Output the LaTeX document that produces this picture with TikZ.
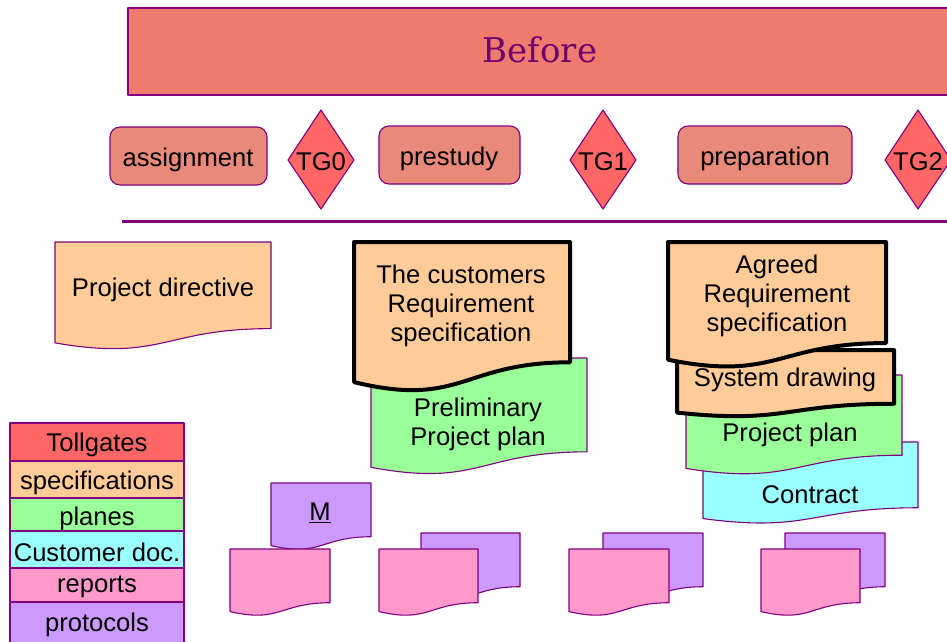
\documentclass[tikz,border=0pt]{standalone}
\usepackage{fontspec}
\setmainfont{Liberation Sans}
\newfontfamily\beforefont{DejaVu Serif}
\definecolor{edge}{RGB}{128,0,128}
\definecolor{titletext}{RGB}{110,0,110}
\definecolor{bannerfill}{RGB}{239,123,111}
\definecolor{phasefill}{RGB}{233,137,122}
\definecolor{gatefill}{RGB}{255,102,102}
\definecolor{specfill}{RGB}{255,204,153}
\definecolor{planfill}{RGB}{153,255,153}
\definecolor{custfill}{RGB}{153,255,255}
\definecolor{repfill}{RGB}{255,153,204}
\definecolor{protfill}{RGB}{204,153,255}
\newcommand{\docshape}[5][]{%
  \draw[#1] (#2,#3) -- ({#2+#4},#3) -- ({#2+#4},{#3+0.802*#5})
    .. controls ({#2+#4/2},{#3+0.802*#5}) and ({#2+#4/2},{#3+1.108*#5})
    .. (#2,{#3+0.934*#5}) -- cycle;}
\tikzset{
  thinedge/.style={draw=edge, line width=1.1pt, line join=round},
  thickedge/.style={draw=black, line width=4pt, line join=round},
  lbl/.style={inner sep=0pt, align=center, yshift=-2.5pt, font=\fontsize{25.6}{29}\selectfont},
  legendrow/.style={thinedge},
}
\begin{document}
\begin{tikzpicture}[x=1pt,y=-1pt]
\useasboundingbox (0,0) rectangle (947,641);
\begin{scope}
\clip (0,0) rectangle (947,641);
% banner
\draw[thinedge, fill=bannerfill] (128,8) rectangle (960,95);
\node[inner sep=0pt, text=titletext, font=\beforefont\fontsize{34}{40}\selectfont] (before) at (540,50) {Before};
% phases
\draw[thinedge, fill=phasefill, rounded corners=10pt] (110,127) rectangle (267,185);
\node[lbl] (assign) at (188,157) {assignment};
\draw[thinedge, fill=phasefill, rounded corners=10pt] (379,126) rectangle (520,184);
\node[lbl] (prestudy) at (449,156) {prestudy};
\draw[thinedge, fill=phasefill, rounded corners=10pt] (678,126) rectangle (852,184);
\node[lbl] (prep) at (765,156) {preparation};
% tollgates
\draw[thinedge, fill=gatefill] (321,110) -- (354,160) -- (321,209) -- (288,160) -- cycle;
\node[lbl, yshift=1pt] (tg0) at (321,160) {TG0};
\draw[thinedge, fill=gatefill] (603,110) -- (636,160) -- (603,209) -- (570,160) -- cycle;
\node[lbl, yshift=1pt] (tg1) at (603,160) {TG1};
\draw[thinedge, fill=gatefill] (918,110) -- (951,160) -- (918,209) -- (885,160) -- cycle;
\node[lbl, yshift=1pt] (tg2) at (918,160) {TG2};
% separator
\draw[draw=edge, line width=3pt] (122,221) -- (960,221);
% project directive
\docshape[thinedge, fill=specfill]{55}{242}{216}{108}
\node[lbl] (pdir) at (163,287) {Project directive};
% preliminary project plan
\docshape[thinedge, fill=planfill]{371}{358}{216}{117}
\node[lbl] (prelim) at (478,422) {Preliminary\\Project plan};
% customers requirement spec
\docshape[thickedge, fill=specfill]{354}{242}{216}{150}
\node[lbl] (custreq) at (461,303) {The customers\\Requirement\\specification};
% contract
\docshape[thinedge, fill=custfill]{703}{442}{215}{82}
\node[lbl] (contract) at (810,492) {Contract};
% project plan
\docshape[thinedge, fill=planfill]{686}{375}{216}{100}
\node[lbl] (pplan) at (790,432) {Project plan};
% system drawing
\docshape[thickedge, fill=specfill]{677}{350}{217}{67}
\node[lbl] (sysdraw) at (785,377) {System drawing};
% agreed requirement spec
\docshape[thickedge, fill=specfill]{668}{242}{218}{126}
\node[lbl] (agreed) at (777,293) {Agreed\\Requirement\\specification};
% protocols and reports
\docshape[thinedge, fill=protfill]{271}{483}{100}{67}
\node[lbl] (mprot) at (320,510) {\underline{M}};
\docshape[thinedge, fill=repfill]{230}{549}{100}{67}
\docshape[thinedge, fill=protfill]{421}{533}{99}{67}
\docshape[thinedge, fill=repfill]{379}{549}{99}{67}
\docshape[thinedge, fill=protfill]{603}{533}{100}{67}
\docshape[thinedge, fill=repfill]{569}{549}{100}{67}
\docshape[thinedge, fill=protfill]{785}{533}{100}{67}
\docshape[thinedge, fill=repfill]{761}{549}{99}{67}
% legend
\draw[legendrow, fill=gatefill] (10,423) rectangle (184,461);
\node[lbl] (lg1) at (97,442) {Tollgates};
\draw[legendrow, fill=specfill] (10,461) rectangle (184,498);
\node[lbl] (lg2) at (97,480) {specifications};
\draw[legendrow, fill=planfill] (10,498) rectangle (184,531);
\node[lbl] (lg3) at (97,516) {planes};
\draw[legendrow, fill=custfill] (10,531) rectangle (184,568);
\node[lbl] (lg4) at (97,550) {Customer doc.};
\draw[legendrow, fill=repfill] (10,568) rectangle (184,602);
\node[lbl] (lg5) at (97,584) {reports};
\draw[legendrow, fill=protfill] (10,602) rectangle (184,660);
\node[lbl] (lg6) at (97,622) {protocols};
\end{scope}
\end{tikzpicture}
\end{document}
